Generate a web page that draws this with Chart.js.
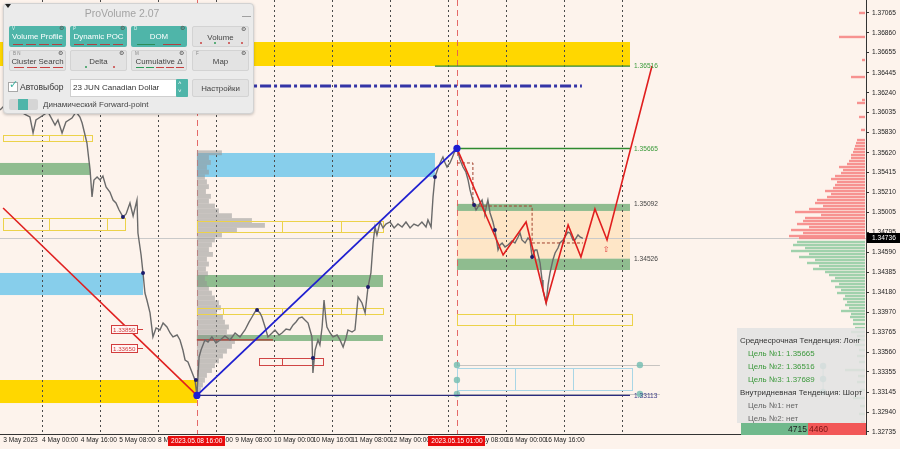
<!DOCTYPE html>
<html>
<head>
<meta charset="utf-8">
<script src="https://cdn.jsdelivr.net/npm/chart.js@4.4.1/dist/chart.umd.min.js"></script>
<style>
html,body{margin:0;padding:0;background:#fdf3ec;overflow:hidden;}
#wrap{position:relative;width:900px;height:449px;overflow:hidden;}
#c{position:absolute;left:0;top:0;}
.ov{position:absolute;font-family:"Liberation Sans",Arial,sans-serif;box-sizing:border-box;}
#panel{left:3px;top:3px;width:251px;height:111px;background:#ebebeb;border:1px solid #d2d2d2;border-radius:4px;box-shadow:0 1px 3px rgba(0,0,0,.22);}
.tri{left:5px;top:4px;width:0;height:0;border-left:3px solid transparent;border-right:3px solid transparent;border-top:4px solid #222;}
.title{left:60px;width:124px;top:7px;text-align:center;font-size:10.5px;color:#a3a3a3;}
.minus{left:242px;top:16px;width:9px;height:0;border-top:1.5px solid #a0a0a0;}
.btn{height:21px;border-radius:2px;}
.teal{background:#4fb5a9;color:#fff;}
.gray{background:#e3e3e3;color:#454545;border:1px solid #d3d3d3;}
.btn .t{position:absolute;left:0;right:0;top:6px;text-align:center;font-size:7.9px;line-height:10px;white-space:nowrap;}
.btn .k{position:absolute;left:3px;top:0px;font-size:4.5px;font-style:normal;color:#e8f4f2;}
.gray .k{color:#888;}
.btn .g{position:absolute;right:2px;top:-1px;font-size:5.5px;font-style:normal;color:#555;}
.ind{position:absolute;bottom:2px;height:1px;}
.dot{position:absolute;bottom:2px;width:2px;height:2px;border-radius:1px;}
#info{left:737px;top:328px;width:128px;height:95px;background:rgba(226,226,226,0.86);}
.it{position:absolute;font-size:7.9px;white-space:nowrap;line-height:10px;}
</style>
</head>
<body>
<div id="wrap">
<canvas id="c" width="900" height="449"></canvas>

<div class="ov" id="panel"></div>
<div class="ov tri"></div>
<div class="ov title">ProVolume 2.07</div>
<div class="ov minus"></div>

<div class="ov btn teal" style="left:9px;top:26px;width:57px"><i class="k">V</i><i class="g">⚙</i><span class="t">Volume Profile</span>
  <span class="ind" style="left:4px;width:10px;background:#b04040"></span><span class="ind" style="left:17px;width:10px;background:#b04040"></span><span class="ind" style="left:30px;width:10px;background:#b04040"></span><span class="ind" style="left:43px;width:10px;background:#b04040"></span></div>
<div class="ov btn teal" style="left:70px;top:26px;width:57px"><i class="k">P</i><i class="g">⚙</i><span class="t">Dynamic POC</span>
  <span class="ind" style="left:4px;width:10px;background:#b04040"></span><span class="ind" style="left:17px;width:10px;background:#b04040"></span><span class="ind" style="left:30px;width:10px;background:#b04040"></span><span class="ind" style="left:43px;width:10px;background:#b04040"></span></div>
<div class="ov btn teal" style="left:131px;top:26px;width:56px"><i class="k">D</i><i class="g">⚙</i><span class="t">DOM</span>
  <span class="ind" style="left:6px;width:18px;background:#2e8b57"></span><span class="ind" style="left:32px;width:18px;background:#b04040"></span></div>
<div class="ov btn gray" style="left:192px;top:26px;width:57px"><i class="g">⚙</i><span class="t">Volume</span>
  <span class="dot" style="left:7px;background:#c84040"></span><span class="dot" style="left:21px;background:#2e9b57"></span><span class="dot" style="left:35px;background:#c84040"></span><span class="dot" style="left:48px;background:#c84040"></span></div>

<div class="ov btn gray" style="left:9px;top:50px;width:57px"><i class="k">B N</i><i class="g">⚙</i><span class="t">Cluster Search</span>
  <span class="ind" style="left:4px;width:10px;background:#c84040"></span><span class="ind" style="left:17px;width:10px;background:#c84040"></span><span class="ind" style="left:30px;width:10px;background:#c84040"></span><span class="ind" style="left:43px;width:10px;background:#c84040"></span></div>
<div class="ov btn gray" style="left:70px;top:50px;width:57px"><i class="g">⚙</i><span class="t">Delta</span>
  <span class="dot" style="left:14px;background:#2e9b57"></span><span class="dot" style="left:42px;background:#c84040"></span></div>
<div class="ov btn gray" style="left:131px;top:50px;width:56px"><i class="k">M</i><i class="g">⚙</i><span class="t">Cumulative Δ</span>
  <span class="ind" style="left:4px;width:8px;background:#2e9b57"></span><span class="ind" style="left:14px;width:8px;background:#2e9b57"></span><span class="ind" style="left:24px;width:8px;background:#c84040"></span><span class="ind" style="left:34px;width:8px;background:#c84040"></span><span class="ind" style="left:44px;width:8px;background:#c84040"></span></div>
<div class="ov btn gray" style="left:192px;top:50px;width:57px"><i class="k">F</i><i class="g">⚙</i><span class="t">Map</span></div>

<div class="ov" style="left:8px;top:82px;width:10px;height:10px;background:#fff;border:1px solid #a8a8a8;"></div>
<div class="ov" style="left:9px;top:78px;font-size:11px;color:#3bb0a0;">✓</div>
<div class="ov" style="left:20px;top:82px;font-size:8.5px;color:#333;">Автовыбор</div>
<div class="ov" style="left:70px;top:79px;width:118px;height:18px;background:#fff;border:1px solid #cfcfcf;"></div>
<div class="ov" style="left:73px;top:83px;font-size:8px;color:#333;white-space:nowrap;">23 JUN Canadian Dollar</div>
<div class="ov" style="left:176px;top:79px;width:12px;height:18px;background:#4fb5a9;border-radius:1px;"></div>
<div class="ov" style="left:178px;top:79px;font-size:6px;color:#fff;line-height:8px;">˄<br>˅</div>
<div class="ov btn gray" style="left:192px;top:79px;width:57px;height:18px;"><span class="t" style="top:4px">Настройки</span></div>
<div class="ov" style="left:9px;top:99px;width:29px;height:11px;background:#d5d5d5;border-radius:2px;"></div>
<div class="ov" style="left:18px;top:99px;width:10px;height:11px;background:#4fb5a9;"></div>
<div class="ov" style="left:43px;top:100px;font-size:8px;color:#444;white-space:nowrap;">Динамический Forward-point</div>

<div class="ov" id="info">
  <div class="it" style="left:3px;top:8px;color:#333;">Среднесрочная Тенденция: Лонг</div>
  <div class="it" style="left:11px;top:21px;color:#3d993d;">Цель №1: 1.35665</div>
  <div class="it" style="left:11px;top:34px;color:#3d993d;">Цель №2: 1.36516</div>
  <div class="it" style="left:11px;top:47px;color:#3d993d;">Цель №3: 1.37689</div>
  <div class="it" style="left:3px;top:60px;color:#333;">Внутридневная Тенденция: Шорт</div>
  <div class="it" style="left:11px;top:73px;color:#666;">Цель №1: нет</div>
  <div class="it" style="left:11px;top:86px;color:#666;">Цель №2: нет</div>
</div>
<div class="ov" style="left:741px;top:423px;width:67px;height:12px;background:#70b98c;"></div>
<div class="ov" style="left:808px;top:423px;width:58px;height:12px;background:#f25757;"></div>
<div class="ov" style="left:741px;top:424px;width:66px;text-align:right;font-size:8.5px;color:#222;">4715</div>
<div class="ov" style="left:809px;top:424px;font-size:8.5px;color:#7a1414;">4460</div>
</div>

<script>
// ---------- axis ranges (hours of trading time since 3 May 2023 00:00, price) ----------
const X_MIN = 6.62, X_MAX = 364.96;
const Y_MIN = 1.32714, Y_MAX = 1.37199;

// ---------- tick labels ----------
const xTickHours = [8,24,40,56,72,88,104,120,136,152,168,184,200,216,232];
const xTickLabels = ["3 May 2023","4 May 00:00","4 May 16:00","5 May 08:00","8 May 00:00","8 May 16:00","9 May 08:00","10 May 00:00","10 May 16:00","11 May 08:00","12 May 00:00","12 May 16:00","15 May 08:00","16 May 00:00","16 May 16:00"];
const yTickLabels = ["1.37065","1.36860","1.36655","1.36445","1.36240","1.36035","1.35830","1.35620","1.35415","1.35210","1.35005","1.34795","1.34590","1.34385","1.34180","1.33970","1.33765","1.33560","1.33355","1.33145","1.32940","1.32735"];
const dayLineHours = [24,48,72,96,120,144,168,192,216,240,264];
const axisMarkHours = [88.0,195.7];
const axisMarkTexts = ["2023.05.08 16:00","2023.05.15 01:00"];
const currentPrice = 1.34736;

// ---------- price series ----------
const priceHours = [6.6,9.1,11.6,14.1,16.6,19.0,20.3,21.5,24.0,26.5,29.4,30.6,32.3,33.9,36.4,38.1,39.7,40.6,41.8,42.6,43.4,43.9,44.7,45.5,46.8,48.0,49.2,50.5,52.1,53.4,54.6,55.9,57.5,58.8,60.4,61.7,63.3,63.7,65.0,65.8,66.6,67.4,68.7,69.9,71.2,72.8,74.1,75.7,77.0,78.2,79.9,81.1,82.3,83.2,84.4,85.2,86.5,87.3,88.1,
89.0,89.8,91.4,92.7,94.3,96.0,97.7,99.7,101.8,103.9,105.9,108.0,109.7,110.9,112.1,113.0,114.2,115.0,116.3,117.5,119.2,120.4,122.1,123.3,125.0,126.6,127.9,129.1,130.3,131.6,132.8,134.1,134.9,135.7,136.1,137.0,138.2,139.0,139.9,140.7,141.5,141.9,143.2,144.4,146.1,147.3,148.6,149.8,150.6,152.3,153.5,154.8,155.6,156.4,157.7,158.9,160.1,161.0,161.8,162.6,163.9,165.1,166.3,168.0,169.7,171.3,173.0,174.6,176.3,177.9,179.6,181.2,182.9,183.7,185.0,185.8,186.6,187.9,188.7,189.9,190.8,191.6,192.8,193.7,194.5,195.7,
197.0,198.2,199.4,200.3,201.1,201.9,202.8,203.6,204.4,205.2,206.1,206.9,207.3,208.1,208.5,209.4,210.6,211.4,212.7,213.5,214.4,215.6,216.8,218.5,219.7,221.0,221.8,222.6,223.9,225.1,225.9,226.8,228.0,228.8,230.1,230.9,231.3,232.6,233.4,234.2,235.4,236.3,237.5,238.3,239.6,240.4,241.6,242.5,243.7,244.5,245.8,246.6,247.8];
const priceClose = [1.36062,1.36124,1.36042,1.36104,1.36021,1.35990,1.35825,1.35959,1.36000,1.36042,1.35907,1.35959,1.35825,1.35938,1.35979,1.36042,1.35990,1.35928,1.35804,1.35721,1.35546,1.35442,1.35163,1.35339,1.35370,1.35339,1.35380,1.35267,1.35215,1.35132,1.35101,1.35029,1.34957,1.34988,1.35101,1.34967,1.35132,1.34791,1.34564,1.34378,1.34171,1.34099,1.33965,1.33717,1.33810,1.33789,1.33861,1.33820,1.33758,1.33717,1.33737,1.33686,1.33582,1.33479,1.33458,1.33407,1.33324,1.33273,1.33113,
1.33510,1.33582,1.33686,1.33665,1.33717,1.33655,1.33686,1.33727,1.33686,1.33758,1.33717,1.33789,1.33872,1.33923,1.33975,1.33996,1.33965,1.33923,1.33820,1.33717,1.33758,1.33789,1.33737,1.33758,1.33799,1.33789,1.33841,1.33872,1.33913,1.33923,1.33892,1.33861,1.33789,1.33717,1.33345,1.33582,1.33686,1.33634,1.33820,1.34099,1.33892,1.33820,1.33758,1.33717,1.33737,1.33686,1.33613,1.33706,1.33789,1.33768,1.33789,1.34130,1.34099,1.34068,1.33965,1.34233,1.34378,1.34688,1.34853,1.34771,1.34905,1.34843,1.34884,1.34905,1.34843,1.34884,1.34853,1.34905,1.34843,1.34884,1.34864,1.34905,1.34853,1.34926,1.34853,1.35163,1.35370,1.35463,1.35515,1.35577,1.35515,1.35473,1.35515,1.35566,1.35618,1.35665,
1.35546,1.35473,1.35422,1.35339,1.35236,1.35163,1.35081,1.35029,1.35060,1.35101,1.35132,1.35029,1.34998,1.35091,1.35132,1.34998,1.34905,1.34822,1.34616,1.34667,1.34688,1.34647,1.34667,1.34709,1.34688,1.34750,1.34791,1.34719,1.34688,1.34740,1.34719,1.34543,1.34616,1.34616,1.34481,1.34306,1.34202,1.34068,1.34254,1.34378,1.34512,1.34585,1.34636,1.34688,1.34719,1.34750,1.34801,1.34791,1.34719,1.34719,1.34771,1.34750,1.34736];

// ---------- trend / forecast lines ----------
const downTrendHours = [7.9,88.1];
const downTrendPrices = [1.35050,1.33113];
const upTrendHours = [88.1,195.7];
const upTrendPrices = [1.33113,1.35665];
const forecastHours = [195.7,214.8,224.3,232.6,241.7,247.0,252.8,257.8,276.4];
const forecastPrices = [1.35665,1.34564,1.34905,1.34068,1.34874,1.34543,1.35039,1.34719,1.36517];
const stepHours = [195.7,202.3,226.8,247.8];
const stepPrices = [1.35515,1.35070,1.34688,1.34688];
const pivotHours = [88.1,195.7];
const pivotPrices = [1.33113,1.35665];
const markHours = [57.5,65.8,87.7,113.0,136.1,158.9,186.6,202.8,211.4,226.8];
const markPrices = [1.34957,1.34378,1.33273,1.33996,1.33499,1.34233,1.35370,1.35081,1.34822,1.34543];

// ---------- zones: [fromHour, toHour, topPrice, bottomPrice] ----------
const zoneYellow = [[6.62,267.3,1.36765,1.36517],[6.62,88.1,1.33272,1.33034]];
const zoneBlue = [[88.1,186.6,1.35618,1.35370],[6.62,65.8,1.34378,1.34150]];
const zoneGreen = [[6.62,43.9,1.35515,1.35391],[88.1,165.1,1.34357,1.34233],[88.1,165.1,1.33737,1.33675],[195.7,267.3,1.35092,1.35019],[195.7,267.3,1.34526,1.34409]];
const zonePeach = [[195.7,267.3,1.35019,1.34526]];

// ---------- outlined rows: [fromHour, toHour, topPrice, bottomPrice, splitHours] ----------
const rowsYellow = [[7.9,44.7,1.35804,1.35742,[26.9,41.0]],[7.9,58.3,1.34946,1.34822,[26.9,50.9]],[88.1,165.1,1.34915,1.34801,[123.3,147.7]],[88.1,165.1,1.34016,1.33954,[98.9,123.3,147.7]],[195.7,268.1,1.33954,1.33840,[219.7,243.7]]];
const rowsBlue = [[195.7,268.1,1.33396,1.33169,[219.7,243.7]]];
const rowsRed = [[113.8,140.3,1.33499,1.33427,[123.3]]];

// ---------- levels ----------
const greenLevels = [[186.6,267.3,1.36516],[195.7,267.3,1.35665]];
const navyLevels = [[88.1,267.3,1.33113]];
const dashDotLevels = [[89.4,247.4,1.36310]];
const pocLevels = [[88.1,119.6,1.33686]];
const guideLevels = [[195.7,279.7,1.33427],[195.7,279.7,1.33127]];
const nodeHours = [195.7,195.7,195.7,271.4,271.4,347.2,347.2,347.2];
const nodePrices = [1.33427,1.33272,1.33127,1.33427,1.33127,1.33417,1.33282,1.33148];
const levelLabelHour = 269;
const levelLabelTexts = ["1.36516","1.35665","1.35092","1.34526","1.33113"];
const priceTagTexts = ["1.33850","1.33650"];
const tagFromHour = 52.4, tagToHour = 63.4, tagStubHour = 65.8;
const arrowHours = [257.4];
const arrowPrices = [1.34616];

// ---------- volume profile (from the 8 May 16:00 low) ----------
const profileStartHour = 88.1;
const profileBin = 0.0005;
const profilePrices = [1.3562,1.3557,1.3552,1.3547,1.3542,1.3537,1.3532,1.3527,1.3522,1.3517,1.3512,1.3507,1.3502,1.3497,1.3492,1.3487,1.3482,1.3477,1.3472,1.3467,1.3462,1.3457,1.3452,1.3447,1.3442,1.3437,1.3432,1.3427,1.3422,1.3417,1.3412,1.3407,1.3402,1.3397,1.3392,1.3387,1.3382,1.3377,1.3372,1.3367,1.3362,1.3357,1.3352,1.3347,1.3342,1.3337,1.3332,1.3327,1.3322,1.3317];
const profileVolumes = [25,12,14,10,12,8,10,12,9,14,12,18,22,35,55,68,40,25,18,15,12,16,10,12,9,11,8,10,12,15,18,22,24,20,26,28,32,30,36,38,35,30,26,22,18,15,10,8,6,4];

// ---------- order book histogram at right edge ----------
const askPrices = [1.37065,1.36817,1.36579,1.36403,1.36166,1.36135,1.35990,1.35856,1.35752,1.35721,1.35690,1.35659,1.35628,1.35597,1.35566,1.35535,1.35504,1.35473,1.35442,1.35411,1.35380,1.35349,1.35318,1.35287,1.35256,1.35225,1.35194,1.35163,1.35132,1.35101,1.35070,1.35039,1.35008,1.34977,1.34946,1.34915,1.34884,1.34853,1.34822,1.34791,1.34760,1.34740];
const askVolumes = [6,26,3,14,3,8,6,4,8,9,10,11,12,14,14,16,18,26,22,24,30,34,28,30,32,40,34,38,48,50,42,56,70,44,60,62,68,56,74,62,76,66];
const bidPrices = [1.34698,1.34667,1.34636,1.34605,1.34574,1.34543,1.34512,1.34481,1.34450,1.34419,1.34388,1.34357,1.34326,1.34295,1.34264,1.34233,1.34202,1.34171,1.34140,1.34109,1.34078,1.34047,1.34016,1.33985,1.33954,1.33923,1.33892,1.33851,1.33809,1.33768,1.33727,1.33685,1.33634,1.33582,1.33520,1.33458,1.33375,1.33313,1.33251,1.33169,1.33086,1.33003,1.32921,1.32838];
const bidVolumes = [68,72,60,74,56,66,50,58,46,52,40,36,30,34,26,30,24,28,20,22,18,20,16,24,14,15,12,12,10,14,8,9,10,6,8,6,20,7,8,5,12,5,6,4];

// ---------- styles ----------
const STYLE = {
  bg:'#fdf3ec', yellow:'#ffd700', blue:'#87ceeb', green:'#8fbc8f', peach:'rgba(255,218,170,0.55)',
  rowYellow:'#ecd24a', rowBlue:'#a9d6e6', rowRed:'#d04545',
  day:'#4a4a4a', redV:'rgba(226,90,90,0.9)', cur:'#c9c9c9',
  profile:'rgba(150,150,150,0.55)', profilePx:1,
  ask:'rgba(246,128,128,0.85)', bid:'rgba(150,205,165,0.9)', domPx:1, domBar:2.4,
  labelColors:['#3a9a3a','#3a9a3a','#444','#444','#3a3a88'],
  font:'6.6px "Liberation Sans", Arial, sans-serif',
  tagFont:'6.2px "Liberation Sans", Arial, sans-serif'
};

const toXY = (hs, ps) => hs.map((h, i) => ({x: h, y: ps[i]}));

const decor = {
  id: 'decor',
  beforeDraw(chart) {
    const c = chart.ctx; c.save(); c.fillStyle = STYLE.bg; c.fillRect(0, 0, chart.width, chart.height); c.restore();
  },
  beforeDatasetsDraw(chart) {
    const c = chart.ctx, a = chart.chartArea, xs = chart.scales.x, ys = chart.scales.y;
    const X = v => xs.getPixelForValue(v), Y = v => ys.getPixelForValue(v);
    c.save();
    c.beginPath(); c.rect(a.left, a.top, a.right - a.left, a.bottom - a.top); c.clip();
    const band = (list, col) => { c.fillStyle = col; list.forEach(z => { const x0 = X(z[0]), x1 = X(z[1]), y0 = Y(z[2]), y1 = Y(z[3]); c.fillRect(x0, y0, x1 - x0, y1 - y0); }); };
    band(zonePeach, STYLE.peach); band(zoneGreen, STYLE.green); band(zoneBlue, STYLE.blue); band(zoneYellow, STYLE.yellow);
    c.strokeStyle = STYLE.cur; c.lineWidth = 1; c.beginPath();
    const yc = Math.round(Y(currentPrice)) + 0.5; c.moveTo(a.left, yc); c.lineTo(a.right, yc); c.stroke();
    c.strokeStyle = STYLE.day; c.setLineDash([2, 3]);
    dayLineHours.forEach(h => { const xx = Math.round(X(h)) + 0.5; c.beginPath(); c.moveTo(xx, a.top); c.lineTo(xx, a.bottom); c.stroke(); });
    c.strokeStyle = STYLE.redV; c.setLineDash([6, 4]);
    axisMarkHours.forEach(h => { const xx = Math.round(X(h)) + 0.5; c.beginPath(); c.moveTo(xx, a.top); c.lineTo(xx, a.bottom); c.stroke(); });
    c.setLineDash([]);
    c.fillStyle = STYLE.profile;
    const px0 = X(profileStartHour);
    profilePrices.forEach((p, i) => {
      const yt = Y(p + profileBin / 2), yb = Y(p - profileBin / 2);
      c.fillRect(px0, yt, profileVolumes[i] * STYLE.profilePx, yb - yt);
    });
    const rows = (list, col) => {
      c.strokeStyle = col; c.lineWidth = 1;
      list.forEach(r => {
        const x0 = Math.round(X(r[0])) + 0.5, x1 = Math.round(X(r[1])) + 0.5, y0 = Math.round(Y(r[2])) + 0.5, y1 = Math.round(Y(r[3])) + 0.5;
        c.strokeRect(x0, y0, x1 - x0, y1 - y0);
        r[4].forEach(s => { const xx = Math.round(X(s)) + 0.5; c.beginPath(); c.moveTo(xx, y0); c.lineTo(xx, y1); c.stroke(); });
      });
    };
    rows(rowsYellow, STYLE.rowYellow); rows(rowsBlue, STYLE.rowBlue); rows(rowsRed, STYLE.rowRed);
    c.strokeStyle = 'rgba(175,175,175,0.7)';
    guideLevels.forEach(l => { const yy = Math.round(Y(l[2])) + 0.5; c.beginPath(); c.moveTo(X(l[0]), yy); c.lineTo(X(l[1]), yy); c.stroke(); });
    c.strokeStyle = 'rgba(120,190,180,0.6)';
    c.beginPath(); c.moveTo(X(nodeHours[5]), Y(nodePrices[5])); c.lineTo(X(nodeHours[7]), Y(nodePrices[7])); c.stroke();
    c.fillStyle = 'rgba(120,190,180,0.85)';
    nodeHours.forEach((h, i) => { c.beginPath(); c.arc(X(h), Y(nodePrices[i]), 3.2, 0, Math.PI * 2); c.fill(); });
    const lvl = (list, col, w, dash) => {
      c.strokeStyle = col; c.lineWidth = w; c.setLineDash(dash || []);
      list.forEach(l => { const yy = Y(l[2]); c.beginPath(); c.moveTo(X(l[0]), yy); c.lineTo(X(l[1]), yy); c.stroke(); });
      c.setLineDash([]);
    };
    lvl(greenLevels, '#2f8a2f', 1.4);
    lvl(navyLevels, '#2b2b7e', 1.4);
    lvl(dashDotLevels, '#3434a6', 3, [11, 3, 3, 3]);
    lvl(pocLevels, '#b83030', 1.2);
    c.fillStyle = STYLE.ask;
    askPrices.forEach((p, i) => { const yy = Y(p); c.fillRect(a.right - 1 - askVolumes[i] * STYLE.domPx, yy - STYLE.domBar / 2, askVolumes[i] * STYLE.domPx, STYLE.domBar); });
    c.fillStyle = STYLE.bid;
    bidPrices.forEach((p, i) => { const yy = Y(p); c.fillRect(a.right - 1 - bidVolumes[i] * STYLE.domPx, yy - STYLE.domBar / 2, bidVolumes[i] * STYLE.domPx, STYLE.domBar); });
    c.restore();
  },
  afterDatasetsDraw(chart) {
    const c = chart.ctx, xs = chart.scales.x, ys = chart.scales.y;
    const X = v => xs.getPixelForValue(v), Y = v => ys.getPixelForValue(v);
    c.save();
    c.font = STYLE.font; c.textBaseline = 'middle'; c.textAlign = 'left';
    levelLabelTexts.forEach((t, i) => { c.fillStyle = STYLE.labelColors[i]; c.fillText(t, X(levelLabelHour), Y(parseFloat(t)) + 0.5); });
    c.font = STYLE.tagFont;
    priceTagTexts.forEach(t => {
      const yy = Math.round(Y(parseFloat(t)) + 5) + 0.5, x0 = Math.round(X(tagFromHour)) + 0.5, x1 = Math.round(X(tagToHour)) + 0.5;
      c.fillStyle = 'rgba(255,245,245,0.9)'; c.fillRect(x0, yy - 4, x1 - x0, 8);
      c.strokeStyle = '#d23c3c'; c.lineWidth = 1; c.strokeRect(x0, yy - 4, x1 - x0, 8);
      c.beginPath(); c.moveTo(x1, yy); c.lineTo(X(tagStubHour), yy); c.stroke();
      c.fillStyle = '#d23c3c'; c.fillText(t, x0 + 1.5, yy + 0.5);
    });
    c.fillStyle = '#e04040'; c.font = '8px "DejaVu Sans", sans-serif'; c.textAlign = 'center';
    arrowHours.forEach((h, i) => c.fillText('⇧', X(h), Y(arrowPrices[i])));
    c.restore();
  },
  afterDraw(chart) {
    const c = chart.ctx, a = chart.chartArea, xs = chart.scales.x, ys = chart.scales.y;
    const X = v => xs.getPixelForValue(v), Y = v => ys.getPixelForValue(v);
    c.save(); c.font = STYLE.font; c.textBaseline = 'middle';
    axisMarkHours.forEach((h, i) => {
      const w = c.measureText(axisMarkTexts[i]).width + 6, xx = X(h);
      c.fillStyle = '#e80c0c'; c.fillRect(Math.round(xx - w / 2), a.bottom + 2, Math.round(w), 10);
      c.fillStyle = '#fff'; c.textAlign = 'center'; c.fillText(axisMarkTexts[i], xx, a.bottom + 7.5);
    });
    const yy = Math.round(Y(currentPrice));
    c.fillStyle = '#000'; c.fillRect(a.right + 1, yy - 5, chart.width - a.right - 1, 10);
    c.fillStyle = '#fff'; c.textAlign = 'left'; c.fillText(currentPrice.toFixed(5), a.right + 6, yy + 0.5);
    c.restore();
  }
};

Chart.defaults.font.family = '"Liberation Sans", Arial, sans-serif';

const zeroPad = s => { s.paddingLeft = 0; s.paddingRight = 0; s.paddingTop = 0; s.paddingBottom = 0; };

new Chart(document.getElementById('c'), {
  type: 'line',
  data: {
    datasets: [
      {data: toXY(pivotHours, pivotPrices), showLine: false, pointRadius: 3.6, pointBackgroundColor: '#1d1dd2', pointBorderWidth: 0, order: 0},
      {data: toXY(markHours, markPrices), showLine: false, pointRadius: 2, pointBackgroundColor: '#1b1b6b', pointBorderWidth: 0, order: 1},
      {data: toXY(forecastHours, forecastPrices), borderColor: '#e01e1e', borderWidth: 1.6, pointRadius: 0, order: 2},
      {data: toXY(upTrendHours, upTrendPrices), borderColor: '#1f1fd0', borderWidth: 1.8, pointRadius: 0, order: 3},
      {data: toXY(downTrendHours, downTrendPrices), borderColor: '#e02020', borderWidth: 1.6, pointRadius: 0, order: 4},
      {data: toXY(stepHours, stepPrices), stepped: true, borderColor: '#a2412d', borderWidth: 1, borderDash: [3, 2], pointRadius: 0, order: 5},
      {data: toXY(priceHours, priceClose), borderColor: '#6a6a6a', borderWidth: 1.4, pointRadius: 0, order: 6}
    ]
  },
  options: {
    responsive: false, animation: false, devicePixelRatio: 1, events: [],
    layout: {padding: 0, autoPadding: false},
    plugins: {legend: {display: false}, tooltip: {enabled: false}},
    scales: {
      x: {
        type: 'linear', min: X_MIN, max: X_MAX,
        afterBuildTicks: s => { s.ticks = xTickHours.map(v => ({value: v})); },
        afterFit: s => { s.height = 15; zeroPad(s); },
        ticks: {autoSkip: false, maxRotation: 0, minRotation: 0, align: 'start', padding: 2, color: '#222', font: {size: 6.6},
          callback: (v, i) => xTickLabels[i]},
        grid: {display: false, drawTicks: false},
        border: {display: true, color: '#333'}
      },
      y: {
        position: 'right', min: Y_MIN, max: Y_MAX,
        afterBuildTicks: s => { s.ticks = yTickLabels.map(v => ({value: parseFloat(v)})); },
        afterFit: s => { s.width = 34; zeroPad(s); },
        ticks: {autoSkip: false, padding: 3, color: '#222', font: {size: 6.6}, callback: (v, i) => yTickLabels[i]},
        grid: {drawOnChartArea: false, drawTicks: true, tickLength: 3, color: '#333'},
        border: {display: true, color: '#333'}
      }
    }
  },
  plugins: [decor]
});
</script>
</body>
</html>
